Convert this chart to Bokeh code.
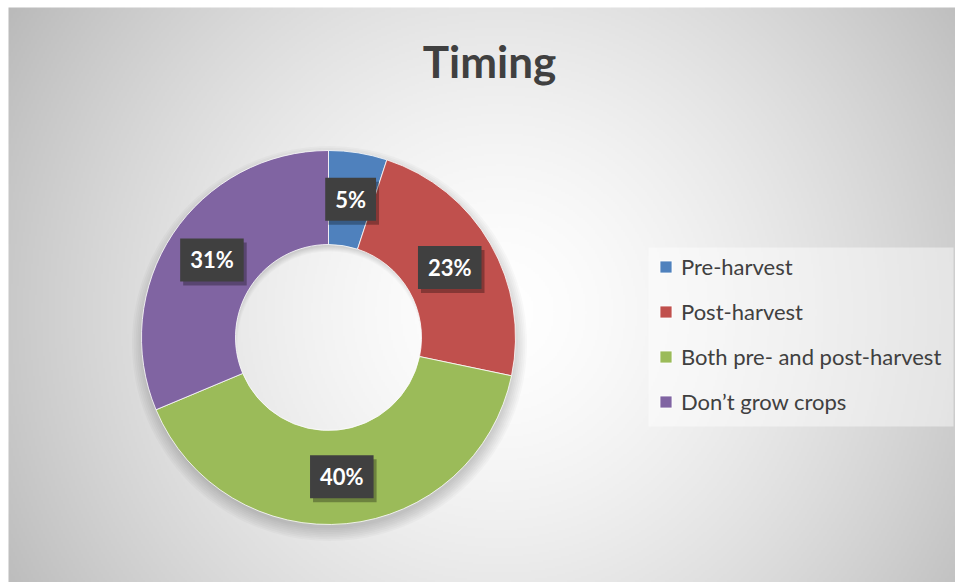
import numpy as np
from bokeh.plotting import figure
from bokeh.models import ColumnDataSource, Legend, LegendItem, Range1d
from bokeh.core.properties import value
from bokeh.embed import file_html
from bokeh.resources import INLINE

# ---- data ----
title_text = "Timing"
categories = ["Pre-harvest", "Post-harvest", "Both pre- and post-harvest", "Don\u2019t grow crops"]
percents = [5, 23, 40, 31]
labels = ["5%", "23%", "40%", "31%"]
colors = ["#4f81bd", "#c0504d", "#9bbb59", "#8064a2"]

W, H = 955, 582
p = figure(width=W, height=H, output_backend="svg", toolbar_location=None,
           x_range=Range1d(0, W), y_range=Range1d(0, H), min_border=0)
p.axis.visible = False
p.grid.visible = False
p.outline_line_color = None
p.background_fill_color = "white"
p.border_fill_color = "white"

# ---- background radial gradient (decoration), chart area x 8..955, y(screen) 7..582 ----
x0, x1, ytop = 8, 955, 575
gw, gh = 474, 288
gx = x0 + (np.arange(gw) + 0.5) * ((x1 - x0) / gw)
gy = (np.arange(gh) + 0.5) * (ytop / gh)
GX, GY = np.meshgrid(gx, gy)
gcx, gcy = 500.0, 270.0
dist = np.sqrt((GX - gcx) ** 2 + (GY - gcy) ** 2) / 560.0
g = np.clip(255 - 66 * np.clip(dist, 0, 1.2) ** 1.5, 0, 255).astype(np.uint32)
img = (255 << 24) | (g << 16) | (g << 8) | g
p.image_rgba(image=[img.astype(np.uint32)], x=x0, y=0, dw=x1 - x0, dh=ytop)

# ---- donut ----
cx, cy = 328.0, 245.0
r_out, r_in = 187.0, 93.0
total = float(sum(percents))
frac = np.array(percents) / total
cum_end = np.cumsum(frac)
cum_start = cum_end - frac
start = np.pi / 2 - cum_start * 2 * np.pi
end = np.pi / 2 - cum_end * 2 * np.pi
mid = (start + end) / 2
r_mid = (r_out + r_in) / 2

# soft shadow
for i in range(8):
    p.annulus(x=cx + 1, y=cy - 6, inner_radius=r_in + 6 - i, outer_radius=r_out - 2 + i * 1.8,
              fill_color="black", fill_alpha=0.025, line_color=None)

src = ColumnDataSource(dict(cat=categories, start=start, end=end, color=colors,
                            lx=cx + r_mid * np.cos(mid), ly=cy + r_mid * np.sin(mid), lab=labels))
wedges = p.annular_wedge(x=cx, y=cy, inner_radius=r_in, outer_radius=r_out,
                         start_angle="start", end_angle="end", direction="clock",
                         fill_color="color", line_color="white", line_width=0.8, source=src)

# data labels (shadow + box)
p.text(x="lx", y="ly", text="lab", source=src, x_offset=3, y_offset=4,
       text_align="center", text_baseline="middle", text_font=value("Lato"),
       text_font_style="bold", text_font_size="22px", text_alpha=0,
       background_fill_color="black", background_fill_alpha=0.3, padding=(10, 8))
p.text(x="lx", y="ly", text="lab", source=src,
       text_align="center", text_baseline="middle", text_font=value("Lato"),
       text_font_style="bold", text_font_size="22px", text_color="white",
       background_fill_color="#404040", padding=(10, 8))

# title
p.text(x=[489], y=[522], text=[title_text], text_align="center", text_baseline="middle",
       text_font=value("Lato"), text_font_style="bold", text_font_size="44px",
       text_color="#404040")

# legend box (decoration)
p.rect(x=[800.5], y=[245.5], width=[305], height=[179], fill_color="white",
       fill_alpha=0.45, line_color=None)

# legend
items = [LegendItem(label=c, renderers=[wedges], index=i) for i, c in enumerate(categories)]
legend = Legend(items=items, location=(658, 167), orientation="vertical",
                padding=10, margin=0, spacing=18, label_standoff=8,
                glyph_width=15, glyph_height=15, label_height=22,
                label_text_font="Lato", label_text_font_size="22px",
                label_text_color="#404040",
                background_fill_alpha=0, border_line_color=None)
p.add_layout(legend)

open("out.html", "w").write(file_html(p, INLINE))
